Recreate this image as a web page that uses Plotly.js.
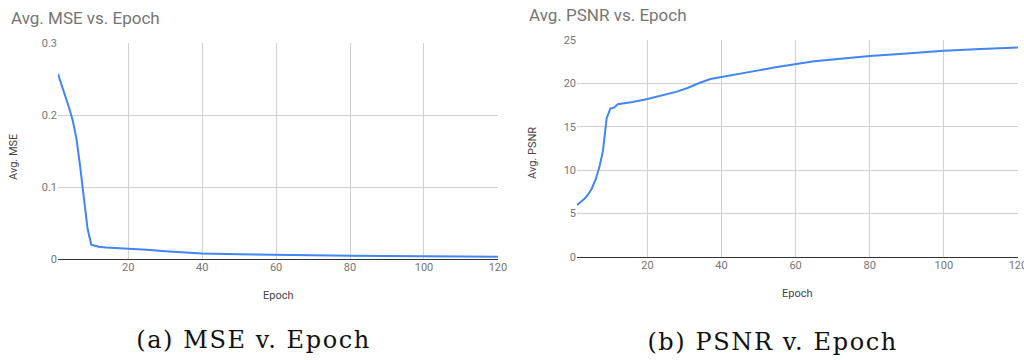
<!DOCTYPE html>
<html>
<head>
<meta charset="utf-8">
<script src="https://cdn.plot.ly/plotly-3.0.1.min.js"></script>
<style>html,body{margin:0;padding:0;background:#fff;}#chart{width:1024px;height:360px;}</style>
</head>
<body>
<div id="chart"></div>
<script>
// Data
const mseEpochs = [1,2,3,4,5,6,7,8,9,10,11,12,14,16,20,25,30,35,40,50,60,70,80,90,100,110,120];
const mseValues = [0.257,0.242,0.226,0.210,0.192,0.167,0.128,0.085,0.042,0.020,0.018,0.017,0.016,0.0155,0.0145,0.0128,0.0108,0.0088,0.0075,0.0065,0.0055,0.005,0.0045,0.004,0.0037,0.0034,0.0032];
const psnrEpochs = [1,2,3,4,5,6,7,8,9,10,11,12,14,16,20,25,28,31,34,37,40,45,50,55,60,65,70,80,90,100,110,120];
const psnrValues = [6.0,6.3,6.7,7.2,7.9,8.9,10.3,12.2,16.0,17.1,17.2,17.6,17.7,17.85,18.2,18.7,19.05,19.5,20.05,20.5,20.75,21.1,21.5,21.9,22.2,22.55,22.75,23.15,23.45,23.75,23.95,24.15];
const xTicks = [20,40,60,80,100,120];
const mseTicks = [0,0.1,0.2,0.3];
const psnrTicks = [0,5,10,15,20,25];
const titles = ["Avg. MSE vs. Epoch", "Avg. PSNR vs. Epoch"];
const yTitles = ["Avg. MSE", "Avg. PSNR"];
const xTitle = "Epoch";
const captions = ["(a) MSE v. Epoch", "(b) PSNR v. Epoch"];

const W = 1024, H = 360;
const px = v => v / W, py = v => 1 - v / H;
const blue = '#4285f4';
const grid = '#d0d0d0';
const tickFont = {family: 'Roboto, Arial, sans-serif', size: 11, color: '#757575'};

const traces = [
  {x: mseEpochs, y: mseValues, xaxis: 'x', yaxis: 'y', mode: 'lines', line: {color: blue, width: 2}, hoverinfo: 'x+y', showlegend: false},
  {x: psnrEpochs, y: psnrValues, xaxis: 'x2', yaxis: 'y2', mode: 'lines', line: {color: blue, width: 2}, hoverinfo: 'x+y', showlegend: false}
];

function xa(domain, anchor) {
  return {domain: domain, anchor: anchor, range: [1, 120.02], tickmode: 'array', tickvals: xTicks,
    showgrid: true, gridcolor: grid, gridwidth: 1, zeroline: false, showline: false, ticks: '',
    ticklabeloverflow: 'allow', tickfont: tickFont, fixedrange: true};
}
function ya(domain, anchor, range, ticks) {
  return {domain: domain, anchor: anchor, range: range, tickmode: 'array', tickvals: ticks,
    showgrid: true, gridcolor: grid, gridwidth: 1, zeroline: true, zerolinecolor: '#333', zerolinewidth: 1,
    showline: false, ticks: '', tickfont: tickFont, fixedrange: true};
}

const capFont = {family: '"DejaVu Serif", "Liberation Serif", serif', size: 24, color: '#111'};
const layout = {
  width: W, height: H,
  margin: {l: 0, r: 0, t: 0, b: 0},
  paper_bgcolor: '#fff', plot_bgcolor: '#fff',
  xaxis: xa([px(58), px(498)], 'y'),
  yaxis: ya([py(259), py(43)], 'x', [0, 0.3], mseTicks),
  xaxis2: xa([px(577), px(1018)], 'y2'),
  yaxis2: ya([py(257), py(40)], 'x2', [0, 25], psnrTicks),
  annotations: [
    {text: titles[0], xref: 'paper', yref: 'paper', x: px(9), y: py(18), xanchor: 'left', yanchor: 'middle', showarrow: false, font: {family: 'Roboto, Arial, sans-serif', size: 17, color: '#757575'}},
    {text: titles[1], xref: 'paper', yref: 'paper', x: px(527), y: py(15), xanchor: 'left', yanchor: 'middle', showarrow: false, font: {family: 'Roboto, Arial, sans-serif', size: 17, color: '#757575'}},
    {text: yTitles[0], xref: 'paper', yref: 'paper', x: px(13), y: py(157), xanchor: 'center', yanchor: 'middle', textangle: -90, showarrow: false, font: {family: 'Roboto, Arial, sans-serif', size: 11, color: '#444'}},
    {text: yTitles[1], xref: 'paper', yref: 'paper', x: px(532), y: py(153), xanchor: 'center', yanchor: 'middle', textangle: -90, showarrow: false, font: {family: 'Roboto, Arial, sans-serif', size: 11, color: '#444'}},
    {text: xTitle, xref: 'paper', yref: 'paper', x: px(278), y: py(295), xanchor: 'center', yanchor: 'middle', showarrow: false, font: {family: 'Roboto, Arial, sans-serif', size: 11, color: '#444'}},
    {text: xTitle, xref: 'paper', yref: 'paper', x: px(797), y: py(293), xanchor: 'center', yanchor: 'middle', showarrow: false, font: {family: 'Roboto, Arial, sans-serif', size: 11, color: '#444'}},
    {text: captions[0], xref: 'paper', yref: 'paper', x: px(253), y: py(340), xanchor: 'center', yanchor: 'middle', showarrow: false, font: capFont},
    {text: captions[1], xref: 'paper', yref: 'paper', x: px(772), y: py(342), xanchor: 'center', yanchor: 'middle', showarrow: false, font: capFont}
  ]
};

Plotly.newPlot('chart', traces, layout, {staticPlot: true, displayModeBar: false}).then(function () {
  document.querySelectorAll('.annotation-text').forEach(function (t) {
    if (captions.indexOf(t.textContent) >= 0) t.style.letterSpacing = '1.6px';
  });
});
</script>
</body>
</html>
